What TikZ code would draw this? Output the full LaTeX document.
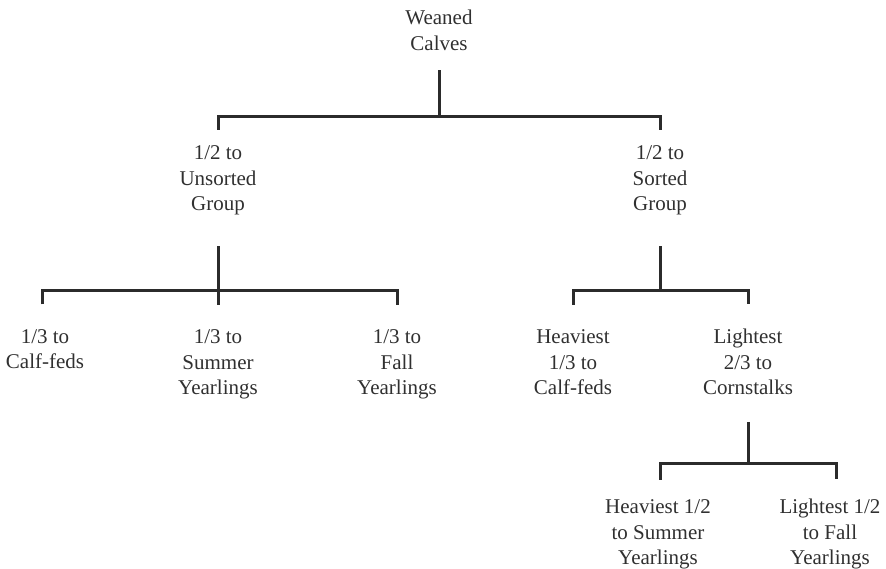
\documentclass[tikz,border=0pt]{standalone}
\usepackage{fontspec}
\setmainfont{Liberation Serif}
\usepackage{xcolor}
\usetikzlibrary{positioning}
\definecolor{linegray}{HTML}{2B2B2B}
\definecolor{txtgray}{HTML}{303030}
\tikzset{tree/.style={line width=3pt,draw=linegray},
  lbl/.style={align=center,inner sep=0pt,text=txtgray,font=\fontsize{21}{25.5}\selectfont,
    execute at begin node=\strut,execute at end node=\strut}}
\begin{document}
\begin{tikzpicture}[x=1pt,y=-1pt]
\useasboundingbox (0,0) rectangle (886,568);
\node[lbl] (wc) at (439,34) {Weaned\\Calves};
\node[lbl] (ug) at (218,182) {1/2 to\\Unsorted\\Group};
\node[lbl] (sg) at (660,182) {1/2 to\\Sorted\\Group};
\coordinate (j0) at (439,116);
    \draw[tree] ([yshift=-12pt]wc.south) -- (j0);
    \draw[tree] ([yshift=16pt]ug.north) |- (j0) -| ([yshift=16pt]sg.north);
% unsorted half
\node[lbl] (cf) at (45,353) {1/3 to\\Calf-feds};
\node[lbl] (sy) at (218,366) {1/3 to\\Summer\\Yearlings};
\node[lbl] (fy) at (397,366) {1/3 to\\Fall\\Yearlings};
\coordinate (j1) at (218,290);
    \draw[tree] ([yshift=-28pt]ug.south) -- ([yshift=25pt]sy.north);
    \draw[tree] ([xshift=-3pt,yshift=25pt]cf.north) |- (j1) -| ([yshift=25pt]fy.north);
% sorted half
\node[lbl] (hc) at (573,366) {Heaviest\\1/3 to\\Calf-feds};
\node[lbl] (lc) at (748,366) {Lightest\\2/3 to\\Cornstalks};
\coordinate (j2) at (660,290);
    \draw[tree] ([yshift=-28pt]sg.south) -- (j2);
    \draw[tree] ([yshift=25pt]hc.north) |- (j2) -| ([yshift=25pt]lc.north);
% cornstalks
\node[lbl] (hs) at (658,536) {Heaviest 1/2\\to Summer\\Yearlings};
\node[lbl] (lf) at (830,536) {Lightest 1/2\\to Fall\\Yearlings};
\coordinate (j3) at (748,463);
    \draw[tree] ([yshift=-19pt]lc.south) -- (j3);
    \draw[tree] ([xshift=2pt,yshift=20pt]hs.north) |- (j3) -| ([xshift=6pt,yshift=20pt]lf.north);
\end{tikzpicture}
\end{document}
